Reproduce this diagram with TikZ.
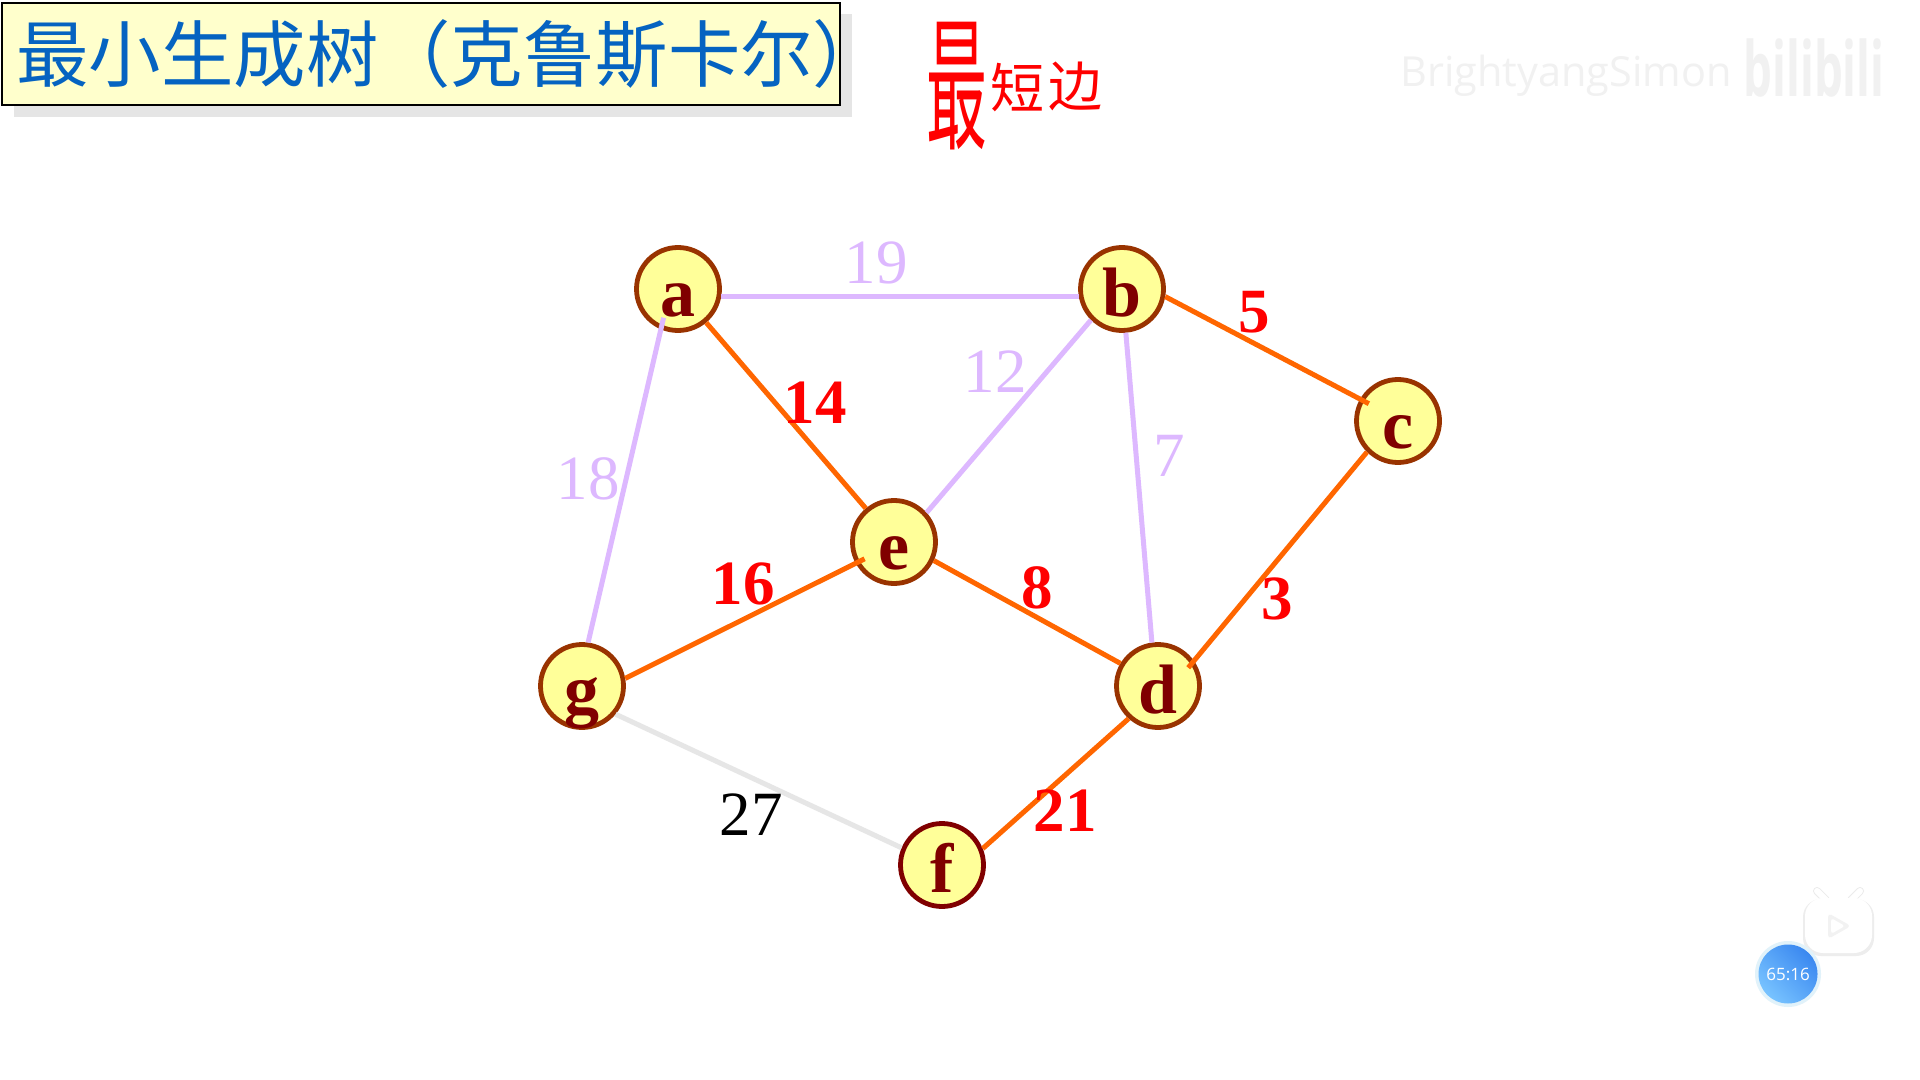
\documentclass[tikz,border=0pt]{standalone}
\usepackage{xcolor}
\usepackage{fontspec}
\usepackage{tikz}
\setmainfont{Liberation Serif}
\setsansfont{Open Sans}
\newfontfamily\cjk{Noto Sans CJK SC}
\usetikzlibrary{shapes,positioning,calc}
\definecolor{titlefill}{RGB}{255,255,204}
\definecolor{titleblue}{RGB}{5,99,193}
\definecolor{vertexfill}{RGB}{255,255,153}
\definecolor{vertexline}{RGB}{153,51,0}
\definecolor{vertexdark}{RGB}{128,0,0}
\definecolor{lilac}{RGB}{221,184,255}
\definecolor{treeorange}{RGB}{255,102,0}
\definecolor{lightedge}{RGB}{230,230,230}
\definecolor{markgray}{RGB}{241,241,241}
\definecolor{timerdark}{RGB}{58,136,240}
\definecolor{timerlight}{RGB}{120,195,255}
\definecolor{timerring}{RGB}{225,242,250}
\tikzset{
    vertex/.style={
        circle,
        draw=vertexline,
        line width=2.4pt,
        fill=vertexfill,
        minimum size=41.5pt,
        inner sep=0pt,
        text height=27.5pt,
        text depth=0pt,
        text=vertexdark,
        font=\fontsize{35}{35}\selectfont\bfseries
    },
    treeedge/.style={draw=treeorange, line width=2.5pt},
    dropedge/.style={draw=lilac, line width=2.5pt},
    restedge/.style={draw=lightedge, line width=2.5pt},
    treeweight/.style={text=red, inner sep=0pt, font=\fontsize{31.5}{31.5}\selectfont\bfseries},
    dropweight/.style={text=lilac, inner sep=0pt, font=\fontsize{31.5}{31.5}\selectfont},
    restweight/.style={text=black, inner sep=0pt, font=\fontsize{31.5}{31.5}\selectfont},
    handwriting/.style={text=red, inner sep=0pt, transform shape}
}

\begin{document}
\begin{tikzpicture}[x=0.5pt, y=-0.5pt]
\useasboundingbox (0,0) rectangle (1920,1080);
\fill[white] (0,0) rectangle (1920,1080);

% Title
\node[rectangle, fill=black!10, minimum width=419pt, minimum height=51.5pt, inner sep=0pt] (title-shadow) at (433,66) {};
\node[rectangle, draw=black, line width=0.9pt, fill=titlefill, minimum width=419pt, minimum height=51pt, inner sep=0pt] (title-box) at (421,54) {};
\node[anchor=west, inner sep=0pt, text=titleblue, font=\cjk\fontsize{36.2}{36.2}\selectfont] (title) at (16,54) {最小生成树（克鲁斯卡尔）};

% Handwritten note
\node[handwriting, yscale=2.25, xscale=0.95, font=\cjk\fontsize{32}{32}\selectfont] (note-a) at (957,86) {最};
\node[handwriting, font=\cjk\fontsize{27}{27}\selectfont] (note-b) at (1017,88) {短};
\node[handwriting, font=\cjk\fontsize{27}{27}\selectfont] (note-c) at (1075,86) {边};

% Watermark
\node[inner sep=0pt, text=markgray, font=\sffamily\fontsize{20.7}{20.7}\selectfont] (mark-name) at (1566,76) {BrightyangSimon};
\node[inner sep=0pt, text=markgray, xscale=0.6, transform shape, font=\sffamily\bfseries\fontsize{38}{38}\selectfont] (mark-logo) at (1814,68) {bilibili};

% Vertices
\node[vertex] (a) at (678,289) {a};
\node[vertex] (b) at (1122,289) {b};
\node[vertex] (c) at (1398,421) {c};
\node[vertex] (d) at (1158,686) {d};
\node[vertex] (e) at (894,542) {e};
\node[vertex, draw=vertexdark] (f) at (942,865) {f};
\node[vertex] (g) at (582,686) {g};

% Edges
\draw[dropedge] (a.-10) -- (b.190);
\draw[dropedge, shorten <=-6pt] (a.247) -- (g.82);
\draw[dropedge] (b.225) -- (e.42);
\draw[dropedge] (b.275) -- (d.98);
\draw[treeedge] (a.310) -- (e.130);
\draw[treeedge, shorten >=-5pt] (b.-10) -- (c.150);
\draw[treeedge, shorten >=-4.5pt] (c.225) -- (d.35);
\draw[treeedge] (e.-25) -- (d.149);
\draw[treeedge, shorten >=-5pt] (g.10) -- (e.209);
\draw[treeedge] (d.228) -- (f.22);
\draw[restedge] (g.-40) -- (f.157);

% Weights
\node[dropweight] (w-ab) at (876,263) {19};
\node[dropweight] (w-ag) at (588,479) {18};
\node[dropweight] (w-be) at (995,372) {12};
\node[dropweight] (w-bd) at (1169,456) {7};
\node[treeweight] (w-ae) at (815,403) {14};
\node[treeweight] (w-bc) at (1254,312) {5};
\node[treeweight] (w-cd) at (1277,599) {3};
\node[treeweight] (w-ed) at (1037,588) {8};
\node[treeweight] (w-df) at (1065,811) {21};
\node[treeweight] (w-ge) at (743,584) {16};
\node[restweight] (w-gf) at (751,815) {27};

% Player badge
\draw[black!8, line width=4pt, line cap=round] (1826,900) -- (1817,891);
\draw[black!8, line width=4pt, line cap=round] (1851,900) -- (1860,891);
\draw[white, line width=3pt, line cap=round] (1826,900) -- (1817,891);
\draw[white, line width=3pt, line cap=round] (1851,900) -- (1860,891);
\fill[black!7, rounded corners=9pt] (1803,899) rectangle (1874,956);
\fill[white, rounded corners=9pt] (1805,898) rectangle (1872,953);
\fill[black!5, rounded corners=2pt] (1828,913) -- (1851,926) -- (1828,939) -- cycle;
\fill[white, rounded corners=1.5pt] (1831,918) -- (1845,926) -- (1831,934) -- cycle;
\node[circle, fill=timerring, minimum size=33pt, inner sep=0pt] (timer-ring) at (1788,974) {};
\node[circle, top color=timerdark, bottom color=timerlight, shading angle=-45, minimum size=29.5pt, inner sep=0pt, text=white, font=\sffamily\fontsize{8.5}{8.5}\selectfont] (timer) at (1788,974) {65:16};
\end{tikzpicture}
\end{document}
